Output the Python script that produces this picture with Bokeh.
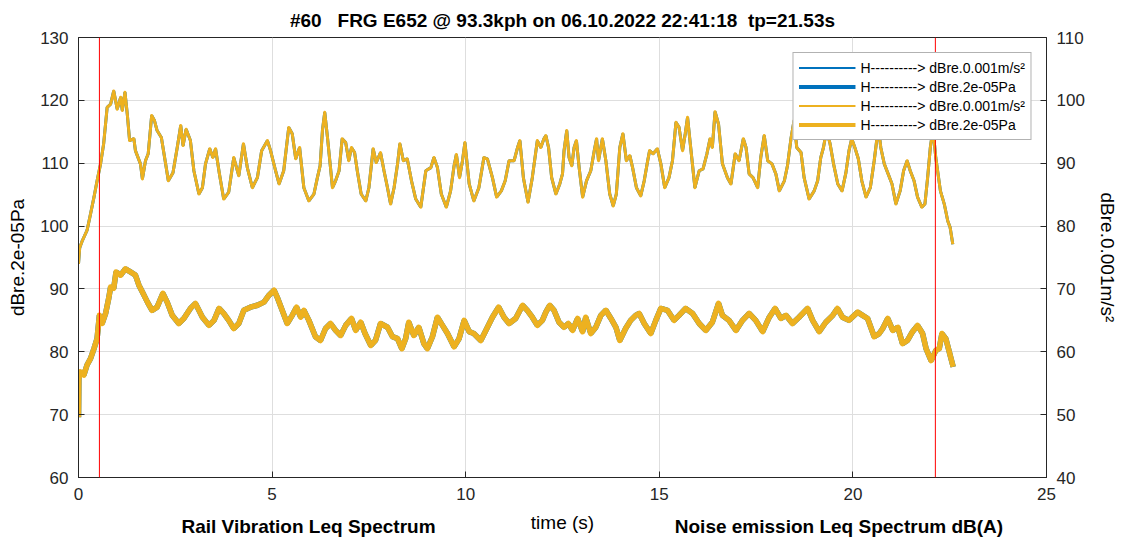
from bokeh.plotting import figure
from bokeh.models import (Range1d, LinearAxis, Span, Legend, LegendItem,
                          FixedTicker, ColumnDataSource)
from bokeh.embed import file_html
from bokeh.resources import INLINE

# ---------------- data ----------------
title_text = "#60\u00a0\u00a0\u00a0FRG E652 @ 93.3kph on 06.10.2022 22:41:18\u00a0\u00a0tp=21.53s"
x_ticks = [0, 5, 10, 15, 20, 25]
left_ticks = [60, 70, 80, 90, 100, 110, 120, 130]
right_ticks = [40, 50, 60, 70, 80, 90, 100, 110]
marker_times = [0.54, 22.13]
legend_labels = ["H----------> dBre.0.001m/s\u00b2", "H----------> dBre.2e-05Pa",
                 "H----------> dBre.0.001m/s\u00b2", "H----------> dBre.2e-05Pa"]

# Rail vibration level (right axis, dB re 0.001 m/s^2)
vib_t = [0.00, 0.03, 0.10, 0.22, 0.31, 0.40, 0.48, 0.57, 0.65, 0.74, 0.83, 0.91, 1.00, 1.09, 1.13,
         1.20, 1.26, 1.32, 1.43, 1.47, 1.60, 1.65, 1.73, 1.80, 1.89, 1.96, 2.03, 2.14, 2.25, 2.32,
         2.44, 2.55, 2.64, 2.70, 2.78, 2.89, 2.98, 3.11, 3.20, 3.28, 3.39, 3.47, 3.54, 3.64, 3.75,
         3.88, 4.01, 4.14, 4.26, 4.36, 4.49, 4.62, 4.73, 4.88, 4.96, 5.09, 5.18, 5.30, 5.43, 5.52,
         5.61, 5.71, 5.82, 5.95, 6.08, 6.17, 6.24, 6.30, 6.36, 6.43, 6.49, 6.56, 6.64, 6.73, 6.81,
         6.90, 6.98, 7.05, 7.13, 7.20, 7.30, 7.42, 7.50, 7.61, 7.69, 7.80, 7.89, 7.98, 8.06, 8.15,
         8.24, 8.30, 8.39, 8.49, 8.60, 8.71, 8.84, 8.97, 9.10, 9.18, 9.27, 9.37, 9.50, 9.61, 9.70,
         9.76, 9.84, 9.91, 9.98, 10.09, 10.21, 10.34, 10.47, 10.56, 10.69, 10.80, 10.92, 11.02,
         11.12, 11.25, 11.34, 11.40, 11.49, 11.61, 11.72, 11.85, 11.94, 12.02, 12.07, 12.14, 12.22,
         12.33, 12.43, 12.50, 12.54, 12.61, 12.67, 12.74, 12.80, 12.86, 12.93, 13.02, 13.12, 13.23,
         13.32, 13.38, 13.43, 13.53, 13.62, 13.72, 13.81, 13.89, 13.98, 14.06, 14.15, 14.24, 14.31,
         14.41, 14.52, 14.61, 14.70, 14.75, 14.84, 14.95, 15.04, 15.14, 15.25, 15.34, 15.43, 15.51,
         15.60, 15.67, 15.73, 15.80, 15.92, 16.03, 16.13, 16.23, 16.31, 16.37, 16.44, 16.53, 16.63,
         16.76, 16.85, 16.96, 17.06, 17.17, 17.24, 17.32, 17.42, 17.54, 17.62, 17.71, 17.80, 17.91,
         18.01, 18.10, 18.23, 18.31, 18.40, 18.48, 18.55, 18.66, 18.74, 18.87, 19.00, 19.09, 19.17,
         19.24, 19.32, 19.41, 19.50, 19.61, 19.72, 19.82, 19.90, 19.97, 20.05, 20.14, 20.23, 20.34,
         20.45, 20.55, 20.62, 20.66, 20.72, 20.81, 20.91, 21.01, 21.11, 21.22, 21.31, 21.40, 21.48,
         21.58, 21.67, 21.78, 21.86, 21.93, 22.00, 22.07, 22.14, 22.26, 22.36, 22.45, 22.51, 22.58]
vib_db = [74.0, 76.5, 77.7, 79.3, 81.9, 84.6, 87.2, 89.9, 93.1, 98.9, 99.4, 101.5, 98.6, 100.5, 98.4,
          101.3, 97.8, 93.6, 93.9, 92.0, 89.9, 87.5, 90.4, 91.5, 97.6, 96.8, 95.2, 94.1, 89.9, 87.2,
          88.5, 92.5, 96.0, 92.8, 95.4, 93.6, 88.8, 85.1, 86.1, 89.9, 92.3, 90.9, 92.3, 88.3, 84.3,
          85.4, 90.9, 88.0, 93.1, 89.3, 86.1, 87.7, 92.0, 93.6, 92.0, 88.8, 86.7, 88.8, 95.7, 94.7,
          90.7, 92.5, 86.1, 84.0, 85.1, 87.7, 89.6, 95.2, 98.1, 94.1, 90.4, 86.1, 87.2, 88.8, 93.9,
          93.3, 90.4, 92.5, 91.7, 88.8, 85.1, 84.0, 86.1, 92.3, 90.1, 91.7, 88.8, 86.1, 83.5, 86.1,
          89.9, 93.1, 90.4, 90.7, 87.2, 84.3, 83.0, 88.8, 89.3, 90.9, 89.3, 85.1, 83.0, 85.6, 89.6,
          91.4, 87.7, 90.1, 93.3, 86.7, 84.0, 86.1, 90.9, 90.7, 87.7, 84.6, 85.6, 87.2,
          90.4, 90.4, 92.5, 93.6, 87.7, 83.8, 87.7, 93.6, 92.5, 93.9, 94.4, 92.5, 87.7,
          85.1, 86.7, 88.3, 92.0, 95.2, 90.9, 89.6, 92.5, 93.6, 89.3, 84.6, 87.2, 88.8,
          92.0, 93.9, 90.4, 93.9, 90.4, 85.1, 83.2, 85.1, 92.5, 94.7, 90.4, 91.2, 89.3,
          86.1, 84.8, 87.2, 90.4, 92.0, 91.5, 92.3, 89.9, 86.1, 87.7, 90.4, 96.5, 95.7,
          92.0, 94.7, 97.3, 93.1, 86.1, 88.8, 89.1, 91.5, 93.9, 92.5, 98.2, 96.2, 89.9,
          87.7, 86.7, 91.5, 90.4, 93.9, 92.5, 88.3, 87.7, 86.1, 90.9, 94.4, 90.4, 89.9,
          88.3, 85.6, 87.2, 89.6, 93.9, 96.8, 92.5, 91.7, 87.7, 84.3, 85.6, 87.2, 90.9,
          92.5, 95.2, 93.1, 89.9, 86.7, 85.6, 88.5, 92.0, 93.9, 92.5, 90.7, 87.2, 84.6,
          86.1, 90.4, 93.9, 95.7, 92.5, 89.9, 88.3, 86.7, 83.5, 85.6, 88.8, 90.4, 88.8,
          87.2, 84.6, 83.0, 83.5, 87.7, 92.5, 95.5, 90.9, 85.6, 83.5, 80.8, 79.8, 77.1]

# Noise emission level (left axis, dB re 2e-05 Pa)
noise_t = [0.00, 0.01, 0.05, 0.14, 0.22, 0.31, 0.40, 0.48, 0.54, 0.61, 0.70, 0.78, 0.83, 0.91, 0.97,
           1.09, 1.21, 1.34, 1.47, 1.56, 1.65, 1.78, 1.90, 2.03, 2.18, 2.29, 2.42, 2.59, 2.72, 2.89,
           3.02, 3.20, 3.37, 3.50, 3.63, 3.75, 3.88, 4.01, 4.14, 4.27, 4.44, 4.62, 4.79, 4.92, 5.05,
           5.13, 5.26, 5.39, 5.52, 5.63, 5.74, 5.82, 5.95, 6.12, 6.25, 6.38, 6.51, 6.64, 6.77, 6.90,
           7.05, 7.16, 7.29, 7.40, 7.55, 7.67, 7.80, 7.98, 8.11, 8.24, 8.35, 8.45, 8.53, 8.66, 8.79,
           8.92, 9.01, 9.14, 9.27, 9.40, 9.53, 9.70, 9.83, 9.96, 10.09, 10.21, 10.39, 10.52, 10.69,
           10.85, 10.99, 11.12, 11.29, 11.47, 11.59, 11.72, 11.85, 11.98, 12.07, 12.17, 12.28, 12.41,
           12.54, 12.65, 12.76, 12.89, 13.02, 13.10, 13.23, 13.36, 13.49, 13.62, 13.75, 13.88, 13.98,
           14.13, 14.26, 14.39, 14.48, 14.61, 14.78, 14.91, 15.04, 15.21, 15.38, 15.51, 15.68, 15.86,
           16.03, 16.20, 16.37, 16.53, 16.63, 16.80, 16.98, 17.15, 17.32, 17.49, 17.67, 17.84, 17.99,
           18.14, 18.27, 18.44, 18.61, 18.83, 18.96, 19.13, 19.30, 19.48, 19.60, 19.73, 19.90, 20.12,
           20.25, 20.38, 20.55, 20.68, 20.77, 20.90, 21.03, 21.16, 21.28, 21.41, 21.54, 21.67, 21.80,
           21.89, 22.02, 22.14, 22.23, 22.30, 22.40, 22.48, 22.59]
noise_db = [69.6, 75.7, 76.8, 76.3, 77.9, 78.9, 80.5, 82.1, 85.8, 84.5, 86.1, 88.5, 90.3, 90.1, 92.7,
            92.2, 93.2, 92.7, 92.2, 90.6, 89.5, 87.9, 86.6, 87.1, 89.3, 87.9, 85.8, 84.5, 85.3, 86.9,
            87.7, 85.5, 84.2, 85.0, 86.9, 86.1, 85.0, 83.7, 84.5, 86.6, 87.1, 87.4, 87.9, 89.0, 89.8,
            88.7, 86.6, 84.5, 85.8, 87.1, 85.5, 86.6, 85.0, 82.4, 81.8, 83.7, 84.5, 83.4, 82.6, 84.2,
            85.3, 83.4, 84.7, 82.9, 81.0, 81.8, 84.5, 83.9, 82.4, 82.1, 80.5, 82.1, 84.7, 82.6, 83.9,
            81.3, 80.5, 82.4, 85.5, 84.2, 82.9, 80.8, 82.1, 85.0, 83.2, 82.9, 81.8, 83.4, 85.5,
            87.1, 85.5, 84.5, 85.3, 87.4, 86.6, 85.5, 84.2, 85.0, 86.3, 87.4, 86.6, 84.7,
            83.9, 84.5, 83.4, 85.3, 83.2, 85.5, 82.9, 83.9, 85.8, 86.6, 85.3, 83.9, 81.8,
            83.7, 85.0, 85.8, 86.1, 84.5, 82.9, 85.0, 86.9, 86.6, 85.0, 85.8, 86.9, 86.1,
            84.5, 83.4, 84.7, 87.7, 85.8, 85.0, 83.4, 85.0, 86.1, 85.0, 83.2, 85.5, 86.9,
            85.3, 85.8, 84.5, 85.5, 86.9, 85.0, 83.2, 84.7, 85.8, 86.9, 85.5, 85.0, 86.3,
            85.8, 85.3, 82.4, 82.9, 83.7, 85.3, 83.4, 83.9, 81.3, 81.8, 83.2, 84.2, 82.9,
            80.5, 78.6, 80.2, 80.5, 82.9, 82.1, 80.2, 77.6]

# titles of the subplots that follow underneath (only their tops are in view)
bottom_titles = ["Rail Vibration Leq Spectrum", "Noise emission Leq Spectrum dB(A)"]
bottom_title_x = [5.94, 19.64]

# ---------------- styling ----------------
FONT = "Liberation Sans"
DARK = "#262626"
BLUE = "#0072BD"
YELLOW = "#EDB120"

p = figure(width=1124, height=541,
           x_range=Range1d(0, 25), y_range=Range1d(60, 130),
           output_backend="svg", toolbar_location=None,
           min_border_left=78, min_border_right=78, min_border_top=37, min_border_bottom=64,
           background_fill_color="white", border_fill_color="white")
p.extra_y_ranges = {"vib": Range1d(40, 110)}

p.title.text = title_text
p.title.align = "center"
p.title.text_font = FONT
p.title.text_font_size = "19px"
p.title.text_font_style = "bold"
p.title.text_color = "#000000"
p.title.standoff = 14

p.outline_line_color = DARK
p.outline_line_width = 1


def style_axis(ax, ticks, label):
    ax.ticker = FixedTicker(ticks=ticks)
    ax.axis_label = label
    ax.axis_label_text_font = FONT
    ax.axis_label_text_font_size = "19px"
    ax.axis_label_text_font_style = "normal"
    ax.axis_label_text_color = "#000000"
    ax.major_label_text_font = FONT
    ax.major_label_text_font_size = "17px"
    ax.major_label_text_color = DARK
    ax.axis_line_color = DARK
    ax.major_tick_line_color = DARK
    ax.major_tick_in = 6
    ax.major_tick_out = 0
    ax.minor_tick_line_color = None
    ax.major_label_standoff = 10
    ax.axis_label_standoff = 9


style_axis(p.xaxis[0], x_ticks, "time (s)")
style_axis(p.yaxis[0], left_ticks, "dBre.2e-05Pa")
right_axis = LinearAxis(y_range_name="vib")
style_axis(right_axis, right_ticks, "dBre.0.001m/s\u00b2")
p.add_layout(right_axis, "right")

# second row below the x axis carrying the two lower subplot titles
sub_axis = LinearAxis(ticker=FixedTicker(ticks=bottom_title_x),
                      major_label_overrides={x: t for x, t in zip(bottom_title_x, bottom_titles)},
                      axis_line_color=None, major_tick_line_color=None,
                      minor_tick_line_color=None, major_tick_in=0, major_tick_out=0,
                      major_label_standoff=-20,
                      major_label_text_font=FONT, major_label_text_font_size="19px",
                      major_label_text_font_style="bold", major_label_text_color="#000000")
p.add_layout(sub_axis, "below")

p.xgrid.ticker = FixedTicker(ticks=x_ticks)
p.ygrid.ticker = FixedTicker(ticks=left_ticks)
for g in (p.xgrid[0], p.ygrid[0]):
    g.grid_line_color = "#dedede"
    g.grid_line_width = 1

vib_src = ColumnDataSource(dict(t=vib_t, db=vib_db))
noise_src = ColumnDataSource(dict(t=noise_t, db=noise_db))

# blue series lie underneath the identical yellow series
p.line("t", "db", source=vib_src, y_range_name="vib", line_color=BLUE, line_width=3)
p.line("t", "db", source=noise_src, line_color=BLUE, line_width=5.5)
p.line("t", "db", source=vib_src, y_range_name="vib", line_color=YELLOW, line_width=3,
       line_join="round")
p.line("t", "db", source=noise_src, line_color=YELLOW, line_width=5.5, line_join="round")

for t in marker_times:
    p.add_layout(Span(location=t, dimension="height", line_color="#ff0000", line_width=1))

# legend proxies (a single NaN point, nothing drawn) carrying the legend's line widths
nan = float("nan")
proxy = ColumnDataSource(dict(t=[nan], db=[nan]))
r1 = p.line("t", "db", source=proxy, line_color=BLUE, line_width=2)
r2 = p.line("t", "db", source=proxy, line_color=BLUE, line_width=4)
r3 = p.line("t", "db", source=proxy, line_color=YELLOW, line_width=2)
r4 = p.line("t", "db", source=proxy, line_color=YELLOW, line_width=4)
legend = Legend(items=[LegendItem(label=lab, renderers=[r]) for lab, r in
                       zip(legend_labels, [r1, r2, r3, r4])],
                location="top_right", margin=15, padding=5, spacing=0,
                label_height=19, glyph_height=19, glyph_width=57, label_standoff=5,
                label_text_font=FONT, label_text_font_size="14px", label_text_color="#000000",
                border_line_color="#666666", border_line_width=1,
                background_fill_color="white", background_fill_alpha=1)
p.add_layout(legend)

open("out.html", "w").write(file_html(p, INLINE))
